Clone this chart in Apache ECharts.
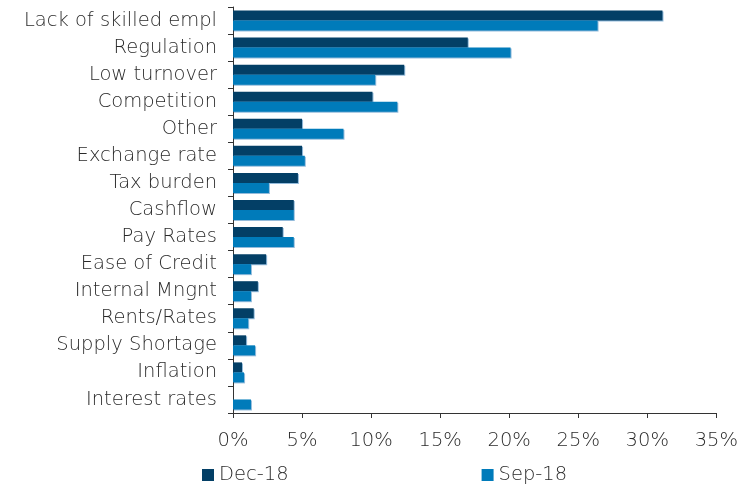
<!DOCTYPE html>
<html>
<head>
<meta charset="utf-8">
<script src="https://cdn.jsdelivr.net/npm/echarts@6/dist/echarts.min.js"></script>
<style>
  html, body { margin: 0; padding: 0; background: #ffffff; }
  #chart { width: 741px; height: 486px; }
</style>
</head>
<body>
<div id="chart"></div>
<script>
// Constraints on business, share of respondents
const categories = [
  'Lack of skilled empl', 'Regulation', 'Low turnover', 'Competition', 'Other',
  'Exchange rate', 'Tax burden', 'Cashflow', 'Pay Rates', 'Ease of Credit',
  'Internal Mngnt', 'Rents/Rates', 'Supply Shortage', 'Inflation', 'Interest rates'
];
const dec18 = [31.1, 17.0, 12.4, 10.1, 5.0, 5.0, 4.7, 4.4, 3.6, 2.4, 1.8, 1.5, 0.95, 0.65, 0];
const sep18 = [26.4, 20.1, 10.3, 11.9, 8.0, 5.2, 2.6, 4.4, 4.4, 1.3, 1.3, 1.1, 1.6, 0.8, 1.3];
const xTicks = [0, 5, 10, 15, 20, 25, 30, 35];

const FONT = '"DejaVu Sans"';
const TEXT = '#2a2a2a';
const W = 200;
const SIZE = 19.5;

const chart = echarts.init(document.getElementById('chart'), null, { renderer: 'canvas' });

chart.setOption({
  animation: false,
  grid: { left: 233, right: 23, top: 7, bottom: 73, containLabel: false },
  legend: {
    data: ['Dec-18', 'Sep-18'],
    top: 460,
    left: 197,
    itemGap: 193,
    itemWidth: 12,
    itemHeight: 12,
    icon: 'rect',
    textStyle: { fontFamily: FONT, fontSize: SIZE, color: TEXT, fontWeight: W }
  },
  xAxis: {
    type: 'value',
    min: xTicks[0],
    max: xTicks[xTicks.length - 1],
    interval: 5,
    splitLine: { show: false },
    axisLine: { show: true, lineStyle: { color: '#333', width: 1 } },
    axisTick: { show: true, length: 5, lineStyle: { color: '#333' } },
    axisLabel: {
      formatter: v => v + '%',
      fontFamily: FONT, fontSize: SIZE, color: TEXT, fontWeight: W, margin: 18
    }
  },
  yAxis: {
    type: 'category',
    data: categories,
    inverse: true,
    axisLine: { show: true, lineStyle: { color: '#333', width: 1 } },
    axisTick: { show: true, length: 5, lineStyle: { color: '#333' } },
    axisLabel: {
      fontFamily: FONT, fontSize: SIZE, color: TEXT, fontWeight: W, margin: 16,
      padding: [3, 0, 0, 0]
    }
  },
  series: [
    {
      name: 'Dec-18',
      type: 'bar',
      data: dec18,
      barWidth: 10,
      barGap: '0%',
      itemStyle: {
        color: '#033f66',
        shadowColor: 'rgba(120,170,210,0.8)', shadowOffsetX: 1, shadowOffsetY: 1, shadowBlur: 0
      }
    },
    {
      name: 'Sep-18',
      type: 'bar',
      data: sep18,
      barWidth: 10,
      barGap: '0%',
      itemStyle: {
        color: '#007bba',
        shadowColor: 'rgba(120,170,210,0.8)', shadowOffsetX: 1, shadowOffsetY: 1, shadowBlur: 0
      }
    }
  ]
});
</script>
</body>
</html>
